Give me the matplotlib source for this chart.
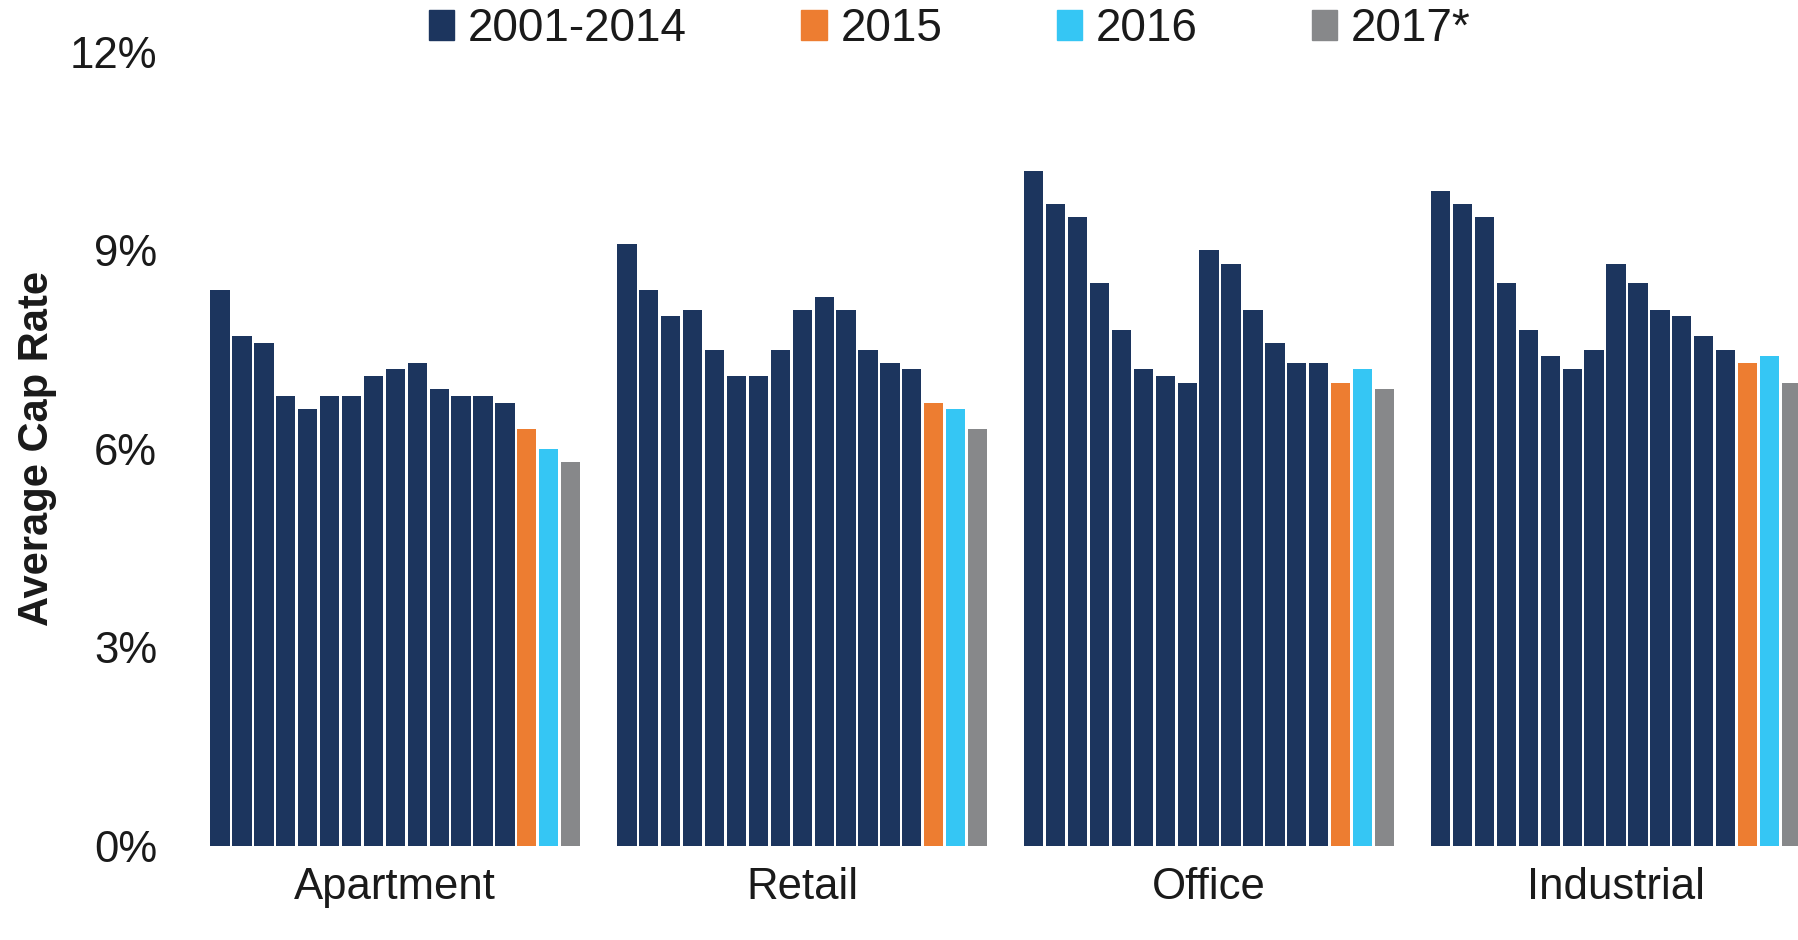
import matplotlib.pyplot as plt
from matplotlib.ticker import FuncFormatter

plt.rcParams['font.family'] = ['Liberation Sans', 'DejaVu Sans']

# property types and average cap rates (%), 2001..2017
categories = ["Apartment", "Retail", "Office", "Industrial"]
years = list(range(2001, 2018))

apartment = [8.4, 7.7, 7.6, 6.8, 6.6, 6.8, 6.8, 7.1, 7.2, 7.3, 6.9, 6.8, 6.8, 6.7, 6.3, 6.0, 5.8]
retail = [9.1, 8.4, 8.0, 8.1, 7.5, 7.1, 7.1, 7.5, 8.1, 8.3, 8.1, 7.5, 7.3, 7.2, 6.7, 6.6, 6.3]
office = [10.2, 9.7, 9.5, 8.5, 7.8, 7.2, 7.1, 7.0, 9.0, 8.8, 8.1, 7.6, 7.3, 7.3, 7.0, 7.2, 6.9]
industrial = [9.9, 9.7, 9.5, 8.5, 7.8, 7.4, 7.2, 7.5, 8.8, 8.5, 8.1, 8.0, 7.7, 7.5, 7.3, 7.4, 7.0]
series = [apartment, retail, office, industrial]

legend_labels = ["2001-2014", "2015", "2016", "2017*"]
navy = "#1c355e"
orange = "#ed7d31"
cyan = "#35c6f4"
grey = "#87888a"

def bar_color(year):
    if year <= 2014:
        return navy
    return {2015: orange, 2016: cyan, 2017: grey}[year]

fig = plt.figure(figsize=(17.99, 9.40), dpi=100)
ax = fig.add_axes([160 / 1799, 0.1, 1 - 160 / 1799, 0.845])

group_step = 18.57
for g, vals in enumerate(series):
    xs = [g * group_step + i for i in range(len(years))]
    ax.bar(xs, vals, width=0.88, color=[bar_color(y) for y in years], linewidth=0)

ax.set_xlim(-2.74, 3 * group_step + 16.35)
ax.set_ylim(0, 12)
ax.set_yticks([0, 3, 6, 9, 12])
ax.yaxis.set_major_formatter(FuncFormatter(lambda v, p: "{:.0f}%".format(v)))
ax.set_xticks([g * group_step + 8 for g in range(len(categories))])
ax.set_xticklabels(categories)
ax.tick_params(axis='both', length=0, labelsize=31.5, colors="#1a1a1a")
ax.tick_params(axis='x', pad=15)
ax.tick_params(axis='y', pad=2)
for s in ax.spines.values():
    s.set_visible(False)

ax.set_ylabel("Average Cap Rate", fontsize=30, fontweight='bold', color="#1a1a1a")
ax.yaxis.set_label_coords(-0.063, 0.5)

handles = [plt.Rectangle((0, 0), 1, 1, color=c) for c in [navy, orange, cyan, grey]]
fig.legend(handles, legend_labels, loc='upper center', bbox_to_anchor=(0.528, 1.036),
           ncol=4, frameon=False, fontsize=33, handlelength=0.55, handleheight=0.62,
           handletextpad=0.3, columnspacing=2.5, labelcolor="#1a1a1a")

fig.savefig("out.png", dpi=100)
